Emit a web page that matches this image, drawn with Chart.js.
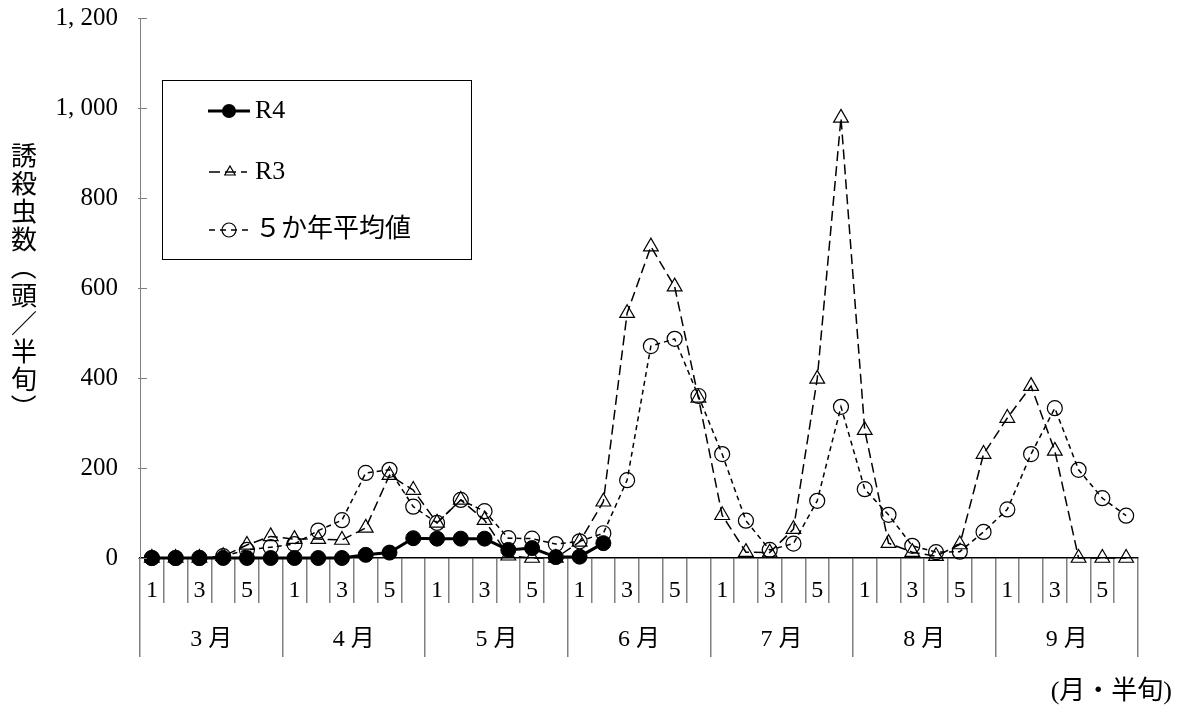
<!DOCTYPE html>
<html>
<head>
<meta charset="utf-8">
<script src="https://cdn.jsdelivr.net/npm/chart.js@4/dist/chart.umd.min.js"></script>
<style>
html,body{margin:0;padding:0;background:#fff;}
#wrap{position:relative;width:1178px;height:713px;}
</style>
</head>
<body>
<div id="wrap"><canvas id="c" width="1178" height="713"></canvas></div>
<script>
// ---- data ----
const months = ['3 月','4 月','5 月','6 月','7 月','8 月','9 月'];
const halfPeriodLabels = ['1','','3','','5',''];
const categories = months.flatMap(() => halfPeriodLabels);
const yTickLabels = ['0','200','400','600','800','1, 000','1, 200'];
const seriesNames = ['R4','R3','５か年平均値'];
const yTitle = '誘殺虫数（頭／半旬）';
const xUnitLabel = '(月・半旬)';

const r4 = [0,0,0,0,0,0, 0,0,0,7,12,44, 43,43,43,18,22,2, 3,33,null,null,null,null,
            null,null,null,null,null,null, null,null,null,null,null,null, null,null,null,null,null,null];
const r3 = [0,0,0,4,29,48, 42,42,40,67,184,151, 78,129,84,5,0,0, 36,125,544,692,603,356,
            95,13,12,64,398,978, 284,33,13,4,30,231, 311,382,238,0,0,0];
const avg5 = [0,0,0,4,18,24, 31,61,84,189,196,114, 78,129,104,44,43,31, 37,55,173,471,487,360,
              231,83,18,32,127,336, 153,96,27,13,14,58, 108,231,333,196,133,94];

const FONT = "'Liberation Serif', 'Noto Sans CJK JP'";

const decor = {
  id: 'decor',
  afterDraw(chart) {
    const ctx = chart.ctx;
    const ys = chart.scales.y;
    const a = chart.chartArea;
    ctx.save();
    // inward y ticks
    ctx.strokeStyle = '#808080';
    ctx.lineWidth = 1;
    ys.ticks.forEach(t => {
      const y = Math.round(ys.getPixelForValue(t.value)) + 0.5;
      ctx.beginPath(); ctx.moveTo(a.left - 2, y); ctx.lineTo(a.left + 7, y); ctx.stroke();
    });
    // vertical y title
    ctx.fillStyle = '#000';
    ctx.font = "26px 'Noto Sans CJK JP'";
    ctx.textAlign = 'center';
    ctx.textBaseline = 'middle';
    [...yTitle].forEach((ch, i) => {
      const y = 155 + 28 * i;
      if (ch === '（' || ch === '）') {
        ctx.save(); ctx.translate(24, y); ctx.rotate(Math.PI / 2); ctx.fillText(ch, 0, 0); ctx.restore();
      } else {
        ctx.fillText(ch, 24, y);
      }
    });
    // legend box
    ctx.strokeStyle = '#000';
    ctx.lineWidth = 1;
    ctx.fillStyle = '#fff';
    ctx.fillRect(162.5, 80.5, 309, 179);
    ctx.strokeRect(162.5, 80.5, 309, 179);
    const rows = [111, 172, 230];
    chart.data.datasets.forEach((ds, i) => {
      const y = rows[i];
      ctx.save();
      ctx.strokeStyle = '#000';
      if (i === 0) {
        ctx.lineWidth = 3; ctx.setLineDash([]);
        ctx.beginPath(); ctx.moveTo(208, y); ctx.lineTo(250, y); ctx.stroke();
        ctx.fillStyle = '#000';
        ctx.beginPath(); ctx.arc(229, y, 7, 0, Math.PI * 2); ctx.fill();
      } else if (i === 1) {
        ctx.lineWidth = 1.5; ctx.setLineDash([11, 5]);
        ctx.beginPath(); ctx.moveTo(209, y); ctx.lineTo(247, y); ctx.stroke();
        ctx.setLineDash([]); ctx.lineWidth = 1.2;
        const r = 6, cx = 230;
        ctx.beginPath();
        ctx.moveTo(cx, y - r); ctx.lineTo(cx + r * 0.866, y + r / 2); ctx.lineTo(cx - r * 0.866, y + r / 2); ctx.closePath();
        ctx.stroke();
      } else {
        ctx.lineWidth = 1.5; ctx.setLineDash([6, 5]);
        ctx.beginPath(); ctx.moveTo(209, y); ctx.lineTo(248, y); ctx.stroke();
        ctx.setLineDash([]); ctx.lineWidth = 1.2;
        ctx.beginPath(); ctx.arc(229, y, 7, 0, Math.PI * 2); ctx.stroke();
      }
      ctx.restore();
      ctx.fillStyle = '#000';
      ctx.font = '26px ' + FONT;
      ctx.textAlign = 'left';
      ctx.textBaseline = 'middle';
      ctx.fillText(ds.label, 255, y);
    });
    ctx.restore();
  }
};

new Chart(document.getElementById('c').getContext('2d'), {
  type: 'line',
  data: {
    labels: categories,
    datasets: [
      { label: seriesNames[0], data: r4, borderColor: '#000', backgroundColor: '#000', borderWidth: 3,
        pointStyle: 'circle', pointRadius: 7.5, pointBackgroundColor: '#000', pointBorderColor: '#000',
        pointBorderWidth: 1, tension: 0, clip: false, spanGaps: false },
      { label: seriesNames[1], data: r3, borderColor: '#000', borderWidth: 1.5, borderDash: [10, 5],
        pointStyle: 'triangle', pointRadius: 8.5, pointBackgroundColor: 'rgba(0,0,0,0)', pointBorderColor: '#000',
        pointBorderWidth: 1.2, tension: 0, clip: false },
      { label: seriesNames[2], data: avg5, borderColor: '#000', borderWidth: 1.5, borderDash: [5, 4],
        pointStyle: 'circle', pointRadius: 7.5, pointBackgroundColor: 'rgba(0,0,0,0)', pointBorderColor: '#000',
        pointBorderWidth: 1.2, tension: 0, clip: false }
    ]
  },
  options: {
    responsive: false,
    animation: false,
    devicePixelRatio: 1,
    events: [],
    layout: { padding: { left: 0, right: 6, top: 18, bottom: 0 } },
    plugins: {
      legend: { display: false },
      tooltip: { enabled: false },
      title: { display: true, text: xUnitLabel, position: 'bottom', align: 'end', color: '#000',
               font: { family: FONT, size: 26, weight: 'normal' }, padding: { top: 20, bottom: 4.8 } }
    },
    scales: {
      x: {
        type: 'category', offset: true,
        grid: { offset: true, drawOnChartArea: false, tickLength: 45, color: '#808080', lineWidth: 1.5 },
        border: { display: true, color: '#000', width: 1.5 },
        ticks: { autoSkip: false, maxRotation: 0, minRotation: 0, padding: -27, color: '#000',
                 font: { family: FONT, size: 24 } },
        afterFit: (ax) => { ax.height = 45; }
      },
      x2: {
        type: 'category', labels: months, position: 'bottom', offset: true,
        grid: { offset: true, drawOnChartArea: false, tickLength: 54, color: '#808080', lineWidth: 1.5 },
        border: { display: false },
        ticks: { autoSkip: false, maxRotation: 0, minRotation: 0, padding: -32, color: '#000',
                 font: { family: FONT, size: 24 } },
        afterFit: (ax) => { ax.height = 54; }
      },
      y: {
        type: 'linear', min: 0, max: 1200,
        grid: { display: false, drawTicks: false },
        border: { display: true, color: '#808080', width: 1 },
        ticks: { stepSize: 200, padding: 22, color: '#000', font: { family: FONT, size: 25 },
                 callback: (v, i) => yTickLabels[i] },
        afterFit: (ax) => { ax.width = 140; ax.paddingTop = 12; ax.paddingBottom = 12; }
      },
      y2: {
        type: 'linear', position: 'right',
        grid: { display: false, drawTicks: false },
        border: { display: false },
        ticks: { display: false, padding: 0 },
        afterFit: (ax) => { ax.width = 34; ax.paddingTop = 0; ax.paddingBottom = 0; }
      }
    }
  },
  plugins: [decor]
});
</script>
</body>
</html>
